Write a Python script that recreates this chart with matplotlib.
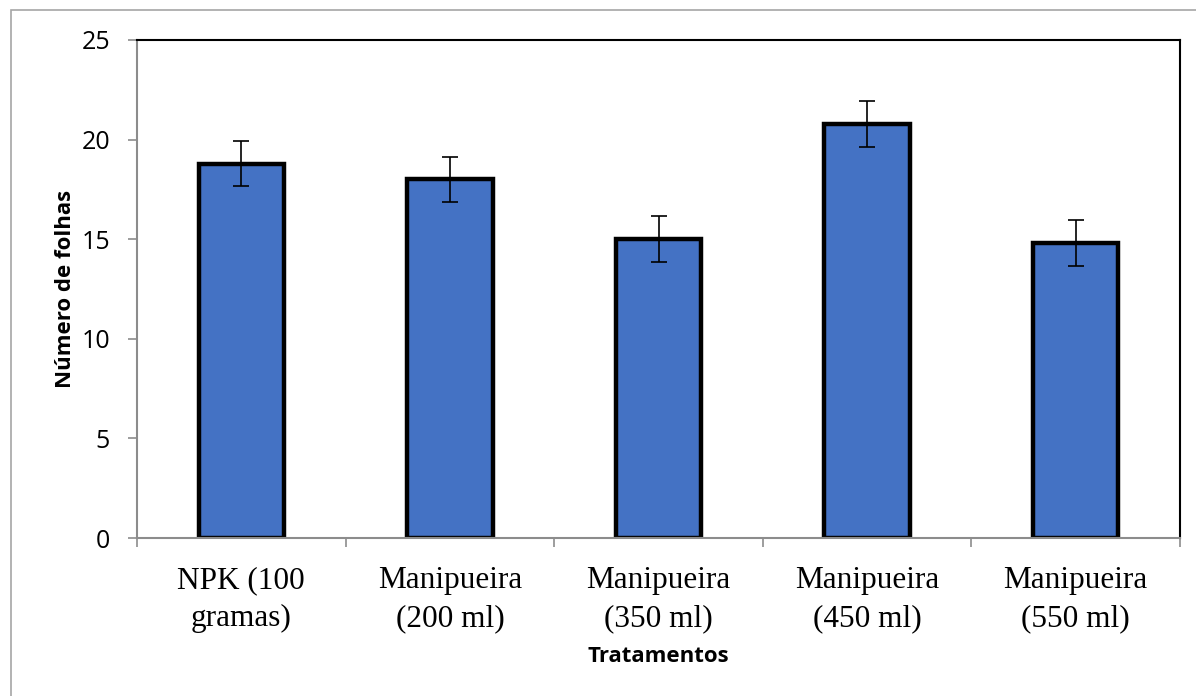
import numpy as np
import matplotlib.pyplot as plt
from matplotlib.patches import Rectangle

categories = ['NPK (100\ngramas)', 'Manipueira\n(200 ml)', 'Manipueira\n(350 ml)',
              'Manipueira\n(450 ml)', 'Manipueira\n(550 ml)']
folhas = [18.8, 18.0, 15.0, 20.8, 14.8]
erro = [1.15, 1.15, 1.15, 1.15, 1.15]

W, H = 1196, 696
fig = plt.figure(figsize=(W / 100, H / 100), dpi=100)
ax = fig.add_axes([137 / W, 1 - 538 / H, (1180 - 137) / W, (538 - 40) / H])

# moldura externa (cinza)
fig.patches.append(Rectangle((11 / W, -0.1), 1.2, 1 - 10 / H + 0.1, transform=fig.transFigure,
                             fill=False, edgecolor='#a6a6a6', linewidth=1.2))

x = np.arange(len(categories))
ax.bar(x, folhas, width=0.41, color='#4472c4', edgecolor='black', linewidth=3.2, zorder=2,
       yerr=erro, error_kw=dict(ecolor='black', elinewidth=1.2, capsize=6, capthick=1.2))

ax.set_xlim(-0.5, len(categories) - 0.5)
ax.set_ylim(0, 25)
ax.set_yticks([0, 5, 10, 15, 20, 25])
ax.set_xticks(x)
ax.set_xticklabels(categories, fontsize=22.5, family='Liberation Serif', linespacing=1.42)
ax.set_xticks(np.arange(-0.5, len(categories)), minor=True)
ax.tick_params(axis='x', which='major', length=0, pad=20)
ax.tick_params(axis='x', which='minor', length=6.5, color='#8c8c8c', width=1.2)
ax.tick_params(axis='y', length=6.5, color='#8c8c8c', width=1.2, labelsize=18, pad=13)
for lab in ax.get_yticklabels():
    lab.set_family('Open Sans')

ax.spines['left'].set_color('#8c8c8c')
ax.spines['bottom'].set_color('#8c8c8c')
ax.spines['left'].set_linewidth(1.5)
ax.spines['bottom'].set_linewidth(1.5)
ax.spines['top'].set_color('black')
ax.spines['right'].set_color('black')
ax.spines['top'].set_linewidth(1.5)
ax.spines['right'].set_linewidth(1.5)

ax.set_xlabel('Tratamentos', fontsize=16, fontweight='bold', family='Open Sans', labelpad=9)
ax.set_ylabel('Número de folhas', fontsize=16, fontweight='bold', family='Open Sans', labelpad=4)

fig.savefig('out.png', dpi=100)
